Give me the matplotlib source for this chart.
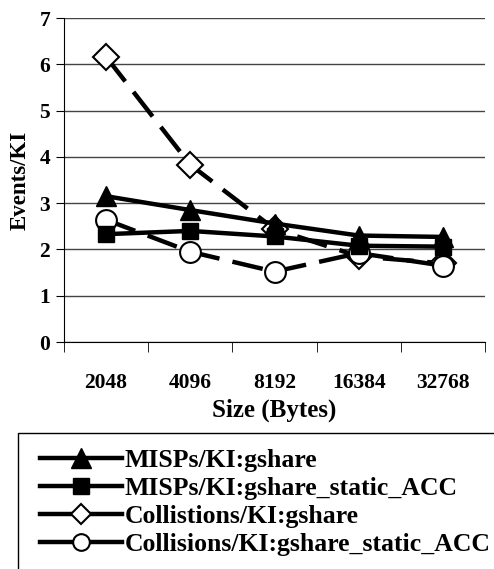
import matplotlib.pyplot as plt
from matplotlib.lines import Line2D
from matplotlib.patches import Rectangle

# data
sizes = ['2048', '4096', '8192', '16384', '32768']
misps_gshare = [3.15, 2.85, 2.56, 2.30, 2.27]
misps_static = [2.33, 2.40, 2.28, 2.08, 2.06]
coll_gshare = [6.16, 3.83, 2.44, 1.85, 1.70]
coll_static = [2.64, 1.95, 1.52, 1.92, 1.65]
labels = ['MISPs/KI:gshare', 'MISPs/KI:gshare_static_ACC',
          'Collistions/KI:gshare', 'Collisions/KI:gshare_static_ACC']

plt.rcParams['font.family'] = 'Liberation Serif'
plt.rcParams['font.weight'] = 'bold'

fig = plt.figure(figsize=(4.94, 5.69), dpi=100)
ax = fig.add_axes([64 / 494, 1 - 342 / 569, (485 - 64) / 494, (342 - 18) / 569])

x = list(range(len(sizes)))
dash = (0, (7, 3))

ax.plot(x, coll_gshare, color='black', lw=3.2, linestyle=dash, marker='D', ms=13,
        mfc='white', mec='black', mew=1.5, zorder=3)
ax.plot(x, coll_static, color='black', lw=3.2, linestyle=dash, marker='o', ms=15,
        mfc='white', mec='black', mew=1.5, zorder=4)
ax.plot(x, misps_gshare, color='black', lw=3.2, marker='^', ms=14, zorder=5)
ax.plot(x, misps_static, color='black', lw=3.2, marker='s', ms=12, zorder=5)

ax.set_xlim(-0.5, 4.5)
ax.set_ylim(0, 7)
ax.set_yticks(range(8))
ax.yaxis.grid(True, color='#444444', lw=1)
ax.set_axisbelow(True)
ax.spines['top'].set_visible(False)
ax.spines['right'].set_visible(False)

ax.set_xticks(x)
ax.set_xticklabels(sizes)
ax.set_xticks([-0.5, 0.5, 1.5, 2.5, 3.5, 4.5], minor=True)
ax.tick_params(axis='x', which='major', length=0, pad=22, labelsize=15.5)
ax.tick_params(axis='x', which='minor', length=7, direction='out')
ax.tick_params(axis='y', length=6, labelsize=15.5, pad=4)

ax.set_ylabel('Events/KI', fontsize=16.5, fontweight='bold', labelpad=6)
ax.set_xlabel('Size (Bytes)', fontsize=18, fontweight='bold', labelpad=4)

handles = [
    Line2D([], [], color='black', lw=3.2, marker='^', ms=14),
    Line2D([], [], color='black', lw=3.2, marker='s', ms=12),
    Line2D([], [], color='black', lw=3.2, marker='D', ms=10, mfc='white', mew=1.5),
    Line2D([], [], color='black', lw=3.2, marker='o', ms=12, mfc='white', mew=1.5),
]
fig.patches.append(Rectangle((18 / 494, -0.1), 1.0, 1.1 - 433 / 569, fill=False,
                             lw=1, edgecolor='black', transform=fig.transFigure))
fig.legend(handles, labels, loc='upper left', bbox_to_anchor=(40 / 494, 1 - 449 / 569),
           frameon=False, fontsize=18.5, handlelength=3.2, handletextpad=0.08,
           labelspacing=0.2, borderpad=0, borderaxespad=0)

fig.savefig('out.png', dpi=100)
